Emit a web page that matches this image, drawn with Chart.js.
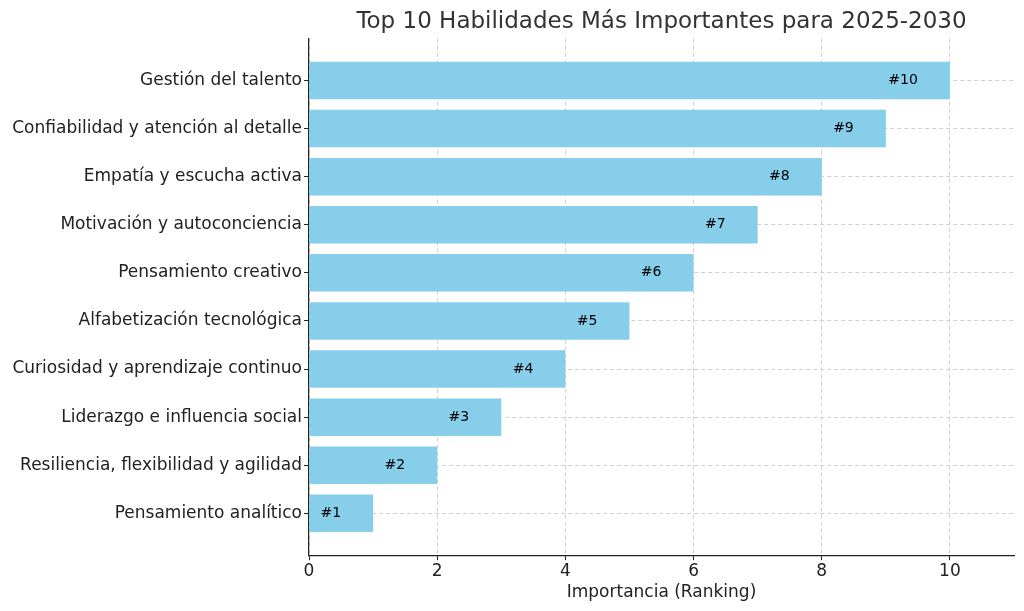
<!DOCTYPE html>
<html>
<head>
<meta charset="utf-8">
<script src="https://cdn.jsdelivr.net/npm/chart.js@4"></script>
<style>
  body { margin: 0; background: #fff; }
  #wrap { width: 1024px; height: 611px; }
</style>
</head>
<body>
<div id="wrap"><canvas id="myChart" width="1024" height="611"></canvas></div>
<script>
// skills, top to bottom
const skills = [
  'Gestión del talento',
  'Confiabilidad y atención al detalle',
  'Empatía y escucha activa',
  'Motivación y autoconciencia',
  'Pensamiento creativo',
  'Alfabetización tecnológica',
  'Curiosidad y aprendizaje continuo',
  'Liderazgo e influencia social',
  'Resiliencia, flexibilidad y agilidad',
  'Pensamiento analítico'
];
const importance = [10, 9, 8, 7, 6, 5, 4, 3, 2, 1];
const rankLabels = ['#10', '#9', '#8', '#7', '#6', '#5', '#4', '#3', '#2', '#1'];
const xTicks = [0, 2, 4, 6, 8, 10];

const font = 'DejaVu Sans';

// draws the "#n" text inside each bar
const rankPlugin = {
  id: 'rankText',
  afterDatasetsDraw(chart) {
    const ctx = chart.ctx;
    const xs = chart.scales.x, ys = chart.scales.y;
    ctx.save();
    ctx.font = '14px "' + font + '"';
    ctx.fillStyle = '#000';
    ctx.textAlign = 'right';
    ctx.textBaseline = 'middle';
    importance.forEach((v, i) => {
      ctx.fillText(rankLabels[i], xs.getPixelForValue(v - 0.5), ys.getPixelForValue(i));
    });
    ctx.restore();
  }
};

var ctx = document.getElementById('myChart').getContext('2d');
var myChart = new Chart(ctx, {
  type: 'bar',
  data: {
    datasets: [{
      data: importance.map((v, i) => ({ x: v, y: i })),
      backgroundColor: '#87CEEB',
      borderWidth: 0,
      barPercentage: 0.78,
      categoryPercentage: 1
    }]
  },
  options: {
    indexAxis: 'y',
    responsive: false,
    animation: false,
    devicePixelRatio: 1,
    layout: { padding: { right: 10, bottom: 8, top: 6 } },
    plugins: {
      legend: { display: false },
      tooltip: { enabled: false },
      title: {
        display: true,
        fullSize: false,
        text: 'Top 10 Habilidades Más Importantes para 2025-2030',
        color: '#333',
        font: { family: font, size: 23, weight: 'normal' },
        padding: { top: 2, bottom: 3 }
      }
    },
    scales: {
      x: {
        type: 'linear',
        min: 0,
        max: 11,
        afterBuildTicks: s => { s.ticks = xTicks.map(v => ({ value: v })); },
        ticks: { color: '#222', font: { family: font, size: 17 }, padding: 1 },
        grid: { color: '#d0d0d0', tickColor: '#222', tickLength: 5, tickBorderDash: [] },
        border: { color: '#222', width: 1.2, dash: [4, 3] },
        title: {
          display: true,
          text: 'Importancia (Ranking)',
          color: '#222',
          font: { family: font, size: 17 },
          padding: { top: 0, bottom: 0 }
        }
      },
      y: {
        type: 'linear',
        reverse: true,
        offset: false,
        min: -0.87,
        max: 9.87,
        afterBuildTicks: s => { s.ticks = skills.map((_, i) => ({ value: i })); },
        afterFit: s => { s.width = 309; },
        ticks: {
          color: '#222',
          font: { family: font, size: 17 },
          padding: 2,
          callback: v => skills[v]
        },
        grid: { offset: false, color: '#d0d0d0', tickColor: '#222', tickLength: 5, tickBorderDash: [] },
        border: { color: '#222', width: 1.2, dash: [4, 3] }
      }
    }
  },
  plugins: [rankPlugin]
});
</script>
</body>
</html>
